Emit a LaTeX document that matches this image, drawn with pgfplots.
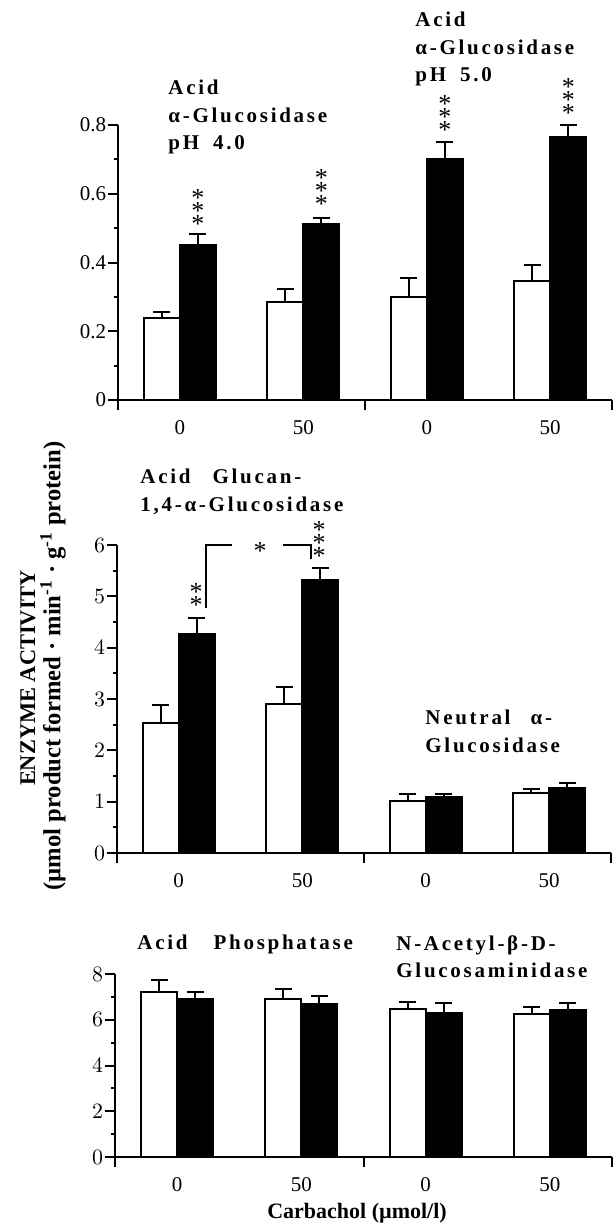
\documentclass[border=0pt]{standalone}
\usepackage{fontspec}
\setmainfont{Liberation Serif}
\newfontfamily\ttl[LetterSpace=13]{Liberation Serif}
\usepackage{pgfplots}
\pgfplotsset{compat=1.18}

\pgfplotsset{
  panel/.style={
    scale only axis, width=247pt, xmin=0.5, xmax=4.5, ymin=0,
    axis x line=bottom, axis y line=left,
    x axis line style={-}, y axis line style={-},
    axis line style={line width=1pt},
    tick align=outside,
    major tick length=5.2pt, minor tick length=2pt,
    tick style={black, line width=1pt},
    xtick={0.5,2.5,4.5}, xticklabels={},
    extra x ticks={1,2,3,4}, extra x tick labels={0,50,0,50},
    extra x tick style={major tick length=0pt, xticklabel style={yshift=-6.5pt}},
    minor y tick num=1,
    ticklabel style={font=\fontsize{10.5}{12}\selectfont},
    yticklabel style={inner sep=0.6pt},
    clip=false,
  },
  % bars are placed at their own x (group -/+ 0.145), so the error bars sit on them
  ebar/.style={ybar, bar width=0.29, bar shift=0pt, draw=black, line width=1pt,
    error bars/.cd, y dir=plus, y explicit,
    error bar style={line width=1pt, black},
    error mark options={rotate=90, line width=1pt, mark size=4.3pt, black}},
  wbar/.style={fill=white, ebar},
  bbar/.style={fill=black, ebar},
}
\tikzset{
  star/.style={anchor=south, inner sep=0pt, align=center, font=\fontsize{13}{6.5}\selectfont},
  ttlnode/.style={anchor=north west, inner sep=0pt, align=left, font=\ttl\bfseries\fontsize{10.5}{13.6}\selectfont},
}
\newcommand{\three}{\smash{*}\\\smash{*}\\\smash{*}}
\newcommand{\two}{\smash{*}\\\smash{*}}

\begin{document}
\begin{tikzpicture}
\useasboundingbox (0,0) rectangle (306.5pt,-614pt);

% acid alpha-glucosidase pH 4.0 / 5.0
\begin{axis}[panel, at={(59pt,-200pt)}, anchor=south west, height=137.5pt,
  ymax=0.8, ytick={0,0.2,0.4,0.6,0.8}, yticklabels={0,0.2,0.4,0.6,0.8}]
\addplot[wbar] coordinates {(0.855,0.24) +- (0,0.016) (1.855,0.285) +- (0,0.038) (2.855,0.30) +- (0,0.055) (3.855,0.345) +- (0,0.048)};
\addplot[bbar] coordinates {(1.145,0.45) +- (0,0.034) (2.145,0.512) +- (0,0.018) (3.145,0.70) +- (0,0.052) (4.145,0.765) +- (0,0.034)};
\node[star] at (axis cs:1.146,0.485) {\three};
\node[star] at (axis cs:2.146,0.543) {\three};
\node[star] at (axis cs:3.146,0.761) {\three};
\node[star] at (axis cs:4.146,0.810) {\three};
\end{axis}

% acid glucan-1,4-alpha-glucosidase / neutral alpha-glucosidase
\begin{axis}[panel, at={(58.5pt,-426.5pt)}, anchor=south west, height=154pt,
  ymax=6, ytick={0,1,2,3,4,5,6}]
\addplot[wbar] coordinates {(0.855,2.53) +- (0,0.35) (1.855,2.9) +- (0,0.33) (2.855,1.02) +- (0,0.12) (3.855,1.16) +- (0,0.08)};
\addplot[bbar] coordinates {(1.145,4.27) +- (0,0.31) (2.145,5.32) +- (0,0.24) (3.145,1.09) +- (0,0.06) (4.145,1.27) +- (0,0.09)};
\node[star] at (axis cs:1.14,4.66) {\two};
\node[star] at (axis cs:2.136,5.62) {\three};
\draw[line width=1pt] (axis cs:1.22,4.77) -- (axis cs:1.22,6) -- (axis cs:1.431,6);
\draw[line width=1pt] (axis cs:1.844,6) -- (axis cs:2.071,6) -- (axis cs:2.071,5.73);
\node[anchor=base, inner sep=0pt, font=\fontsize{13}{12}\selectfont] at (axis cs:1.658,5.71) {*};
\end{axis}

% acid phosphatase / N-acetyl-beta-D-glucosaminidase
\begin{axis}[panel, at={(57.5pt,-578.5pt)}, anchor=south west, height=91.5pt, width=248.5pt,
  ymax=8, ytick={0,2,4,6,8}]
\addplot[wbar] coordinates {(0.855,7.22) +- (0,0.5) (1.855,6.9) +- (0,0.43) (2.855,6.47) +- (0,0.3) (3.855,6.27) +- (0,0.3)};
\addplot[bbar] coordinates {(1.145,6.9) +- (0,0.32) (2.145,6.7) +- (0,0.32) (3.145,6.3) +- (0,0.42) (4.145,6.43) +- (0,0.3)};
\end{axis}

\node[ttlnode] at (84pt,-40pt) {Acid\\α-Glucosidase\\pH\hspace{3pt} 4.0};
\node[ttlnode] at (207.5pt,-6pt) {Acid\\α-Glucosidase\\pH\hspace{3pt} 5.0};
\node[ttlnode] at (70pt,-234.5pt) {Acid\hspace{7pt} Glucan-\\1,4-α-Glucosidase};
\node[ttlnode] at (212.5pt,-355pt) {Neutral\hspace{6pt} α-\\Glucosidase};
\node[ttlnode] at (68.5pt,-467.5pt) {Acid\hspace{9pt} Phosphatase};
\node[ttlnode] at (198pt,-467.5pt) {N-Acetyl-β-D-\\Glucosaminidase};

\node[rotate=90, inner sep=0pt, font=\bfseries\fontsize{11.2}{12}\selectfont] at (14pt,-339pt) {ENZYME ACTIVITY};
\node[rotate=90, inner sep=0pt, font=\bfseries\fontsize{12.3}{13}\selectfont] at (26.5pt,-333pt)
  {(µmol product formed · min\textsuperscript{-1} · g\textsuperscript{-1} protein)};
\node[font=\bfseries\fontsize{11}{12}\selectfont] at (178.5pt,-606.5pt) {Carbachol (µmol/l)};
\end{tikzpicture}
\end{document}
